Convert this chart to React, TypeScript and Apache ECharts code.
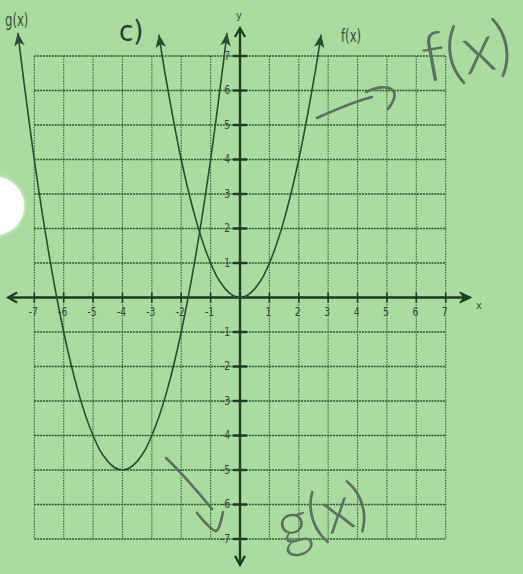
import React, { useEffect, useRef } from "react";
import * as echarts from "echarts";

// Square grid: one line per integer from -7 to 7 in both directions
const gridValues = [-7, -6, -5, -4, -3, -2, -1, 0, 1, 2, 3, 4, 5, 6, 7];
// Labelled ticks on both axes (no label at the origin)
const tickValues = [-7, -6, -5, -4, -3, -2, -1, 1, 2, 3, 4, 5, 6, 7];
const tickLabels = ["-7", "-6", "-5", "-4", "-3", "-2", "-1", "1", "2", "3", "4", "5", "6", "7"];

// Where the drawn axes stop (arrow tips), in axis units
const xAxisEnds = [-7.89, 7.88];
const yAxisEnds = [-7.75, 7.81];

// f(x): the parent parabola through the origin
const fPoints: [number, number][] = [
  [-2.76, 7.62], [-2.5, 6.25], [-2, 4], [-1.5, 2.25], [-1, 1], [-0.5, 0.25], [0, 0],
  [0.5, 0.25], [1, 1], [1.5, 2.25], [2, 4], [2.5, 6.25], [2.76, 7.62],
];
// g(x): the same parabola with its vertex at (-4, -5)
const gPoints: [number, number][] = [
  [-7.56, 7.67], [-7, 4], [-6.5, 1.25], [-6, -1], [-5.5, -2.75], [-5, -4], [-4.5, -4.75],
  [-4, -5], [-3.5, -4.75], [-3, -4], [-2.5, -2.75], [-2, -1], [-1.5, 1.25], [-1, 4], [-0.44, 7.67],
];
// Arrowheads at the open ends of both curves: [x, y, rotation in degrees]
const curveArrows: [number, number, number][] = [
  [-2.76, 7.62, 8.8], [2.76, 7.62, -8.8], [-7.56, 7.67, 6.8], [-0.44, 7.67, -6.8],
];

const INK = "#2b4c34";
const AXIS = "#1f3c27";
const PEN = "#5e6e60";
const LABEL = "#34453a";
const PRINT_FONT = "'Liberation Sans Narrow', 'DejaVu Sans Condensed', 'Roboto', sans-serif";

export default function App() {
  const ref = useRef<HTMLDivElement>(null);

  useEffect(() => {
    if (!ref.current) return;
    const chart = echarts.init(ref.current, undefined, { renderer: "svg" });

    const gMin = gridValues[0];
    const gMax = gridValues[gridValues.length - 1];

    const hiddenAxis = {
      type: "value",
      min: -8,
      max: 8,
      interval: 1,
      axisLine: { show: false },
      axisTick: { show: false },
      axisLabel: { show: false },
      splitLine: { show: false },
    };

    const option: any = {
      animation: false,
      backgroundColor: "#aadb9f",
      grid: {
        left: 4.9,
        top: 21.5,
        width: 470.2,
        height: 552,
        containLabel: false,
        outerBoundsMode: "none",
      },
      xAxis: hiddenAxis,
      yAxis: hiddenAxis,
      series: [
        {
          name: "grid",
          type: "custom",
          silent: true,
          z: 1,
          data: gridValues.map((v) => [v, v]),
          renderItem: (_p: any, api: any) => {
            const v = api.value(0);
            const a = api.coord([v, gMax]);
            const b = api.coord([v, gMin]);
            const l = api.coord([gMin, v]);
            const r = api.coord([gMax, v]);
            return {
              type: "group",
              children: [
                {
                  type: "line",
                  shape: { x1: a[0], y1: a[1], x2: b[0], y2: b[1] },
                  style: { stroke: "#3d6a46", lineWidth: 1.1, lineDash: [1.6, 1.1] },
                },
                {
                  type: "line",
                  shape: { x1: l[0], y1: l[1], x2: r[0], y2: r[1] },
                  style: { stroke: "#2a5532", lineWidth: 1.5, lineDash: [2, 0.9] },
                },
              ],
            };
          },
        },
        {
          name: "axes",
          type: "custom",
          silent: true,
          z: 2,
          data: [[0, 0]],
          renderItem: (_p: any, api: any) => {
            const xl = api.coord([xAxisEnds[0], 0]);
            const xr = api.coord([xAxisEnds[1], 0]);
            const yb = api.coord([0, yAxisEnds[0]]);
            const yt = api.coord([0, yAxisEnds[1]]);
            const axisStyle = { stroke: AXIS, lineWidth: 2.4 };
            const headStyle = { stroke: AXIS, lineWidth: 2.2, fill: "none" };
            return {
              type: "group",
              children: [
                { type: "line", shape: { x1: xl[0] + 1, y1: xl[1], x2: xr[0] - 4, y2: xr[1] }, style: axisStyle },
                { type: "line", shape: { x1: yt[0], y1: yt[1] + 1, x2: yb[0], y2: yb[1] - 1 }, style: axisStyle },
                {
                  type: "polyline",
                  shape: { points: [[xl[0] + 9, xl[1] - 5], [xl[0], xl[1]], [xl[0] + 9, xl[1] + 5]] },
                  style: headStyle,
                },
                {
                  type: "polygon",
                  shape: { points: [[xr[0] - 12, xr[1] - 5.5], [xr[0], xr[1]], [xr[0] - 12, xr[1] + 5.5], [xr[0] - 8, xr[1]]] },
                  style: { fill: AXIS, stroke: AXIS, lineWidth: 1 },
                },
                {
                  type: "polyline",
                  shape: { points: [[yt[0] - 5, yt[1] + 9], [yt[0], yt[1]], [yt[0] + 5, yt[1] + 9]] },
                  style: headStyle,
                },
                {
                  type: "polyline",
                  shape: { points: [[yb[0] - 5, yb[1] - 9], [yb[0], yb[1]], [yb[0] + 5, yb[1] - 9]] },
                  style: headStyle,
                },
              ],
            };
          },
        },
        {
          name: "f(x)",
          type: "line",
          z: 3,
          smooth: 0.4,
          symbol: "none",
          silent: true,
          data: fPoints,
          lineStyle: { color: INK, width: 1.6 },
        },
        {
          name: "g(x)",
          type: "line",
          z: 3,
          smooth: 0.4,
          symbol: "none",
          silent: true,
          data: gPoints,
          lineStyle: { color: INK, width: 1.6 },
        },
        {
          // tick marks across both axes, with their numbers
          name: "ticks",
          type: "custom",
          silent: true,
          z: 4,
          data: tickValues.map((v, i) => [v, v, i]),
          renderItem: (_p: any, api: any) => {
            const v = api.value(0);
            const label = tickLabels[api.value(2)];
            const px = api.coord([v, 0]);
            const py = api.coord([0, v]);
            const textStyle = { fontSize: 12, fontFamily: PRINT_FONT, fill: LABEL };
            return {
              type: "group",
              children: [
                {
                  type: "line",
                  shape: { x1: px[0], y1: px[1] - 5, x2: px[0], y2: px[1] + 5 },
                  style: { stroke: AXIS, lineWidth: 1.6 },
                },
                {
                  type: "line",
                  shape: { x1: py[0] - 7, y1: py[1], x2: py[0] + 7, y2: py[1] },
                  style: { stroke: AXIS, lineWidth: 2.4 },
                },
                {
                  type: "text",
                  x: px[0] - 1,
                  y: px[1] + 9,
                  scaleX: 0.85,
                  style: { ...textStyle, text: label, textAlign: "center", textVerticalAlign: "top" },
                },
                {
                  type: "text",
                  x: py[0] - 10,
                  y: py[1],
                  scaleX: 0.85,
                  style: { ...textStyle, text: label, textAlign: "right", textVerticalAlign: "middle" },
                },
              ],
            };
          },
        },
        {
          name: "arrowheads",
          type: "scatter",
          z: 5,
          silent: true,
          symbol: "arrow",
          symbolSize: [8, 13],
          itemStyle: { color: INK, opacity: 1 },
          data: curveArrows.map(([x, y, rot]) => ({ value: [x, y], symbolRotate: rot })),
        },
      ],
      graphic: [
        // punched hole on the left edge of the sheet
        {
          type: "circle",
          shape: { cx: -5, cy: 206, r: 29 },
          style: { fill: "#ffffff", shadowBlur: 4, shadowColor: "rgba(255,255,255,0.9)" },
          z: 10,
        },
        {
          type: "text",
          x: 5,
          y: 11,
          scaleX: 0.72,
          style: { text: "g(x)", fontSize: 18, fontFamily: PRINT_FONT, fill: "#3b4a3f" },
          z: 10,
        },
        {
          type: "text",
          x: 119,
          y: 16,
          style: { text: "c)", fontSize: 29, fontFamily: PRINT_FONT, fill: "#2c3a32" },
          z: 10,
        },
        {
          type: "text",
          x: 341,
          y: 27,
          scaleX: 0.72,
          style: { text: "f(x)", fontSize: 18, fontFamily: PRINT_FONT, fill: "#3b4a3f" },
          z: 10,
        },
        {
          type: "text",
          x: 239,
          y: 10,
          style: { text: "y", fontSize: 11, fontFamily: PRINT_FONT, fill: "#3b4a3f", textAlign: "center" },
          z: 10,
        },
        {
          type: "text",
          x: 476,
          y: 300,
          style: { text: "x", fontSize: 11, fontFamily: PRINT_FONT, fill: "#3b4a3f" },
          z: 10,
        },
        // pen notes: arrow pointing at f(x)
        {
          type: "bezierCurve",
          shape: { x1: 317, y1: 118, cpx1: 335, cpy1: 110, cpx2: 355, cpy2: 101, x2: 372, y2: 97 },
          style: { stroke: PEN, lineWidth: 2.6, fill: "none", lineCap: "round" },
          z: 11,
        },
        {
          type: "bezierCurve",
          shape: { x1: 366, y1: 92, cpx1: 383, cpy1: 83, cpx2: 406, cpy2: 86, x2: 388, y2: 109 },
          style: { stroke: PEN, lineWidth: 2.6, fill: "none", lineCap: "round" },
          z: 11,
        },
        {
          type: "text",
          x: 466,
          y: 48,
          rotation: 0.18,
          style: {
            text: "f(x)",
            fontSize: 68,
            fontFamily: "Lato, 'Open Sans', sans-serif",
            fontWeight: 300,
            fill: PEN,
            textAlign: "center",
            textVerticalAlign: "middle",
          },
          z: 11,
        },
        // pen notes: arrow pointing down to g(x)
        {
          type: "bezierCurve",
          shape: { x1: 166, y1: 458, cpx1: 180, cpy1: 471, cpx2: 198, cpy2: 492, x2: 212, y2: 509 },
          style: { stroke: PEN, lineWidth: 2.6, fill: "none", lineCap: "round" },
          z: 11,
        },
        {
          type: "polyline",
          shape: { points: [[197, 513], [216, 531], [223, 512]], smooth: 0.3 },
          style: { stroke: PEN, lineWidth: 2.6, fill: "none", lineCap: "round" },
          z: 11,
        },
        {
          type: "text",
          x: 321,
          y: 512,
          rotation: 0.3,
          style: {
            text: "g(x)",
            fontSize: 62,
            fontFamily: "Lato, 'Open Sans', sans-serif",
            fontWeight: 300,
            fill: PEN,
            textAlign: "center",
            textVerticalAlign: "middle",
          },
          z: 11,
        },
      ],
    };

    chart.setOption(option);
    return () => chart.dispose();
  }, []);

  return (
    <div
      ref={ref}
      style={{ position: "absolute", left: 0, top: 0, width: 523, height: 574 }}
    />
  );
}
